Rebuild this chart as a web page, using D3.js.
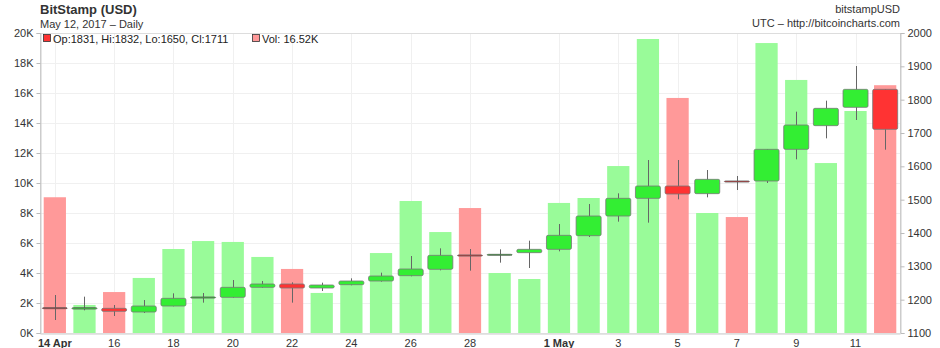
<!DOCTYPE html>
<html>
<head>
<meta charset="utf-8">
<script src="https://cdn.jsdelivr.net/npm/d3@7"></script>
<style>
  body { margin: 0; background: #fff; }
  svg { font-family: "Liberation Sans", Arial, sans-serif; }
</style>
</head>
<body>
<svg id="chart" width="940" height="348"></svg>
<script>
// daily data, 14 Apr .. 12 May 2017
const days = ["2017-04-14","2017-04-15","2017-04-16","2017-04-17","2017-04-18","2017-04-19","2017-04-20",
  "2017-04-21","2017-04-22","2017-04-23","2017-04-24","2017-04-25","2017-04-26","2017-04-27","2017-04-28",
  "2017-04-29","2017-04-30","2017-05-01","2017-05-02","2017-05-03","2017-05-04","2017-05-05","2017-05-06",
  "2017-05-07","2017-05-08","2017-05-09","2017-05-10","2017-05-11","2017-05-12"];
const opens  = [1176,1172,1174,1163,1181,1206,1207,1237,1247,1235,1245,1256,1272,1291,1334,1333,1341,1351,1392,1451,1504,1541,1518,1556,1556,1651,1722,1777,1831];
const highs  = [1214,1209,1184,1199,1219,1220,1259,1256,1252,1251,1264,1281,1331,1354,1352,1351,1377,1427,1487,1519,1619,1619,1589,1571,1652,1764,1797,1901,1832];
const lows   = [1139,1168,1151,1160,1180,1191,1206,1236,1191,1226,1243,1254,1270,1288,1287,1311,1295,1345,1388,1434,1431,1501,1507,1529,1550,1621,1684,1739,1650];
const closes = [1173,1176,1165,1181,1204,1208,1237,1247,1235,1244,1256,1271,1292,1333,1332,1336,1351,1393,1451,1504,1541,1517,1561,1554,1651,1724,1774,1831,1711];
const volumes = [9050,1870,2730,3670,5600,6130,6070,5070,4270,2670,3330,5330,8800,6730,8330,4000,3600,8670,9000,11130,19600,15670,8000,7730,19330,16870,11330,14800,16520];

const tickDays = ["2017-04-14","2017-04-16","2017-04-18","2017-04-20","2017-04-22","2017-04-24","2017-04-26",
  "2017-04-28","2017-05-01","2017-05-03","2017-05-05","2017-05-07","2017-05-09","2017-05-11"];
const boldTicks = ["2017-04-14","2017-05-01"];
const volTicks = [0,2000,4000,6000,8000,10000,12000,14000,16000,18000,20000];
const priceTicks = [1100,1200,1300,1400,1500,1600,1700,1800,1900,2000];

const plotLeft = 40, plotRight = 900, plotTop = 33, plotBottom = 333;

const data = days.map((d, i) => ({
  day: d, open: opens[i], high: highs[i], low: lows[i], close: closes[i], vol: volumes[i]
}));

const parse = d3.timeParse("%Y-%m-%d");

const xScale = d3.scaleBand()
  .domain(days)
  .range([plotLeft, plotRight])
  .paddingInner(0.25)
  .paddingOuter(0.125);

const yVol = d3.scaleLinear().domain([0, 20000]).range([plotBottom, plotTop]);
const yPrice = d3.scaleLinear().domain([1100, 2000]).range([plotBottom, plotTop]);

const svg = d3.select("#chart");

// header texts
svg.append("text").attr("x", 40).attr("y", 14)
  .style("font-size", "13px").style("font-weight", "bold").style("fill", "#333")
  .text("BitStamp (USD)");
svg.append("text").attr("x", 40).attr("y", 28)
  .style("font-size", "11px").style("fill", "#333")
  .text("May 12, 2017 – Daily");
svg.append("text").attr("x", 900).attr("y", 13).attr("text-anchor", "end")
  .style("font-size", "11px").style("fill", "#333")
  .text("bitstampUSD");
svg.append("text").attr("x", 900).attr("y", 27).attr("text-anchor", "end")
  .style("font-size", "11px").style("fill", "#333")
  .text("UTC – http://bitcoincharts.com");

// grid
const grid = svg.append("g").attr("class", "grid");
grid.selectAll("line.h")
  .data(volTicks)
  .enter().append("line")
  .attr("x1", plotLeft).attr("x2", plotRight)
  .attr("y1", d => yVol(d) + 0.5).attr("y2", d => yVol(d) + 0.5)
  .style("stroke", "#f0f0f0");
grid.selectAll("line.v")
  .data(tickDays)
  .enter().append("line")
  .attr("x1", d => Math.round(xScale(d) + xScale.bandwidth() / 2) + 0.5)
  .attr("x2", d => Math.round(xScale(d) + xScale.bandwidth() / 2) + 0.5)
  .attr("y1", plotTop).attr("y2", plotBottom)
  .style("stroke", "#f0f0f0");

// volume bars
svg.append("g").attr("class", "volume")
  .selectAll("rect")
  .data(data)
  .enter().append("rect")
  .attr("x", d => xScale(d.day))
  .attr("width", xScale.bandwidth())
  .attr("y", d => yVol(d.vol))
  .attr("height", d => yVol(0) - yVol(d.vol))
  .style("fill", d => d.close < d.open ? "#ff9999" : "#99fb99");

// candles
const bodyW = 25;
const candles = svg.append("g").attr("class", "candles")
  .selectAll("g")
  .data(data)
  .enter().append("g");

candles.append("line")
  .attr("x1", d => Math.round(xScale(d.day) + xScale.bandwidth() / 2) + 0.5)
  .attr("x2", d => Math.round(xScale(d.day) + xScale.bandwidth() / 2) + 0.5)
  .attr("y1", d => yPrice(d.high))
  .attr("y2", d => yPrice(d.low))
  .style("stroke", "#666")
  .style("stroke-width", 1);

candles.append("rect")
  .attr("x", d => xScale(d.day) + xScale.bandwidth() / 2 - bodyW / 2)
  .attr("width", bodyW)
  .attr("y", d => yPrice(Math.max(d.open, d.close)))
  .attr("height", d => Math.max(1, Math.abs(yPrice(d.open) - yPrice(d.close))))
  .attr("rx", 1.5)
  .style("fill", d => d.close < d.open ? "#ff3333" : "#33ee33")
  .style("stroke", d => Math.abs(yPrice(d.open) - yPrice(d.close)) < 2 ? "#555" : "#777")
  .style("stroke-width", 0.8);

// frame
svg.append("line").attr("x1", plotLeft + 0.5).attr("x2", plotLeft + 0.5).attr("y1", plotTop).attr("y2", plotBottom)
  .style("stroke", "#ccc");
svg.append("line").attr("x1", plotRight + 0.5).attr("x2", plotRight + 0.5).attr("y1", plotTop).attr("y2", plotBottom)
  .style("stroke", "#ccc");
svg.append("line").attr("x1", plotLeft).attr("x2", plotRight).attr("y1", plotTop + 0.5).attr("y2", plotTop + 0.5)
  .style("stroke", "#ddd");

// axes
const fmtK = d => (d / 1000) + "K";
const leftAxis = d3.axisLeft(yVol).tickValues(volTicks).tickFormat(fmtK).tickSize(4).tickPadding(3);
const rightAxis = d3.axisRight(yPrice).tickValues(priceTicks).tickFormat(d3.format("d")).tickSize(4).tickPadding(3);
const bottomAxis = d3.axisBottom(xScale).tickValues(tickDays).tickSize(0).tickPadding(6)
  .tickFormat(d => {
    const t = parse(d);
    return boldTicks.includes(d) ? d3.timeFormat("%-d %b")(t) : d3.timeFormat("%-d")(t);
  });

function styleAxis(g) {
  g.select(".domain").style("stroke", "#ccc");
  g.selectAll(".tick line").style("stroke", "#bbb");
  g.selectAll("text").style("font-size", "11px").style("fill", "#333")
    .style("font-family", "'Liberation Sans', Arial, sans-serif");
}

svg.append("g").attr("class", "y axis")
  .attr("transform", "translate(" + (plotLeft + 0.5) + ",0)")
  .call(leftAxis).call(styleAxis);

svg.append("g").attr("class", "y2 axis")
  .attr("transform", "translate(" + (plotRight + 0.5) + ",0)")
  .call(rightAxis).call(styleAxis);

const xg = svg.append("g").attr("class", "x axis")
  .attr("transform", "translate(0," + (plotBottom + 0.5) + ")")
  .call(bottomAxis).call(styleAxis);
xg.selectAll(".tick text")
  .style("font-weight", d => boldTicks.includes(d) ? "bold" : "normal");

// legend
const last = data[data.length - 1];
const legend = svg.append("g").attr("class", "legend");
legend.append("rect").attr("x", 43.5).attr("y", 34.5).attr("width", 7).attr("height", 7)
  .style("fill", "#ff3333").style("stroke", "#333").style("stroke-width", 0.8);
legend.append("text").attr("x", 53).attr("y", 43)
  .style("font-size", "11px").style("fill", "#222")
  .text("Op:" + last.open + ", Hi:" + last.high + ", Lo:" + last.low + ", Cl:" + last.close);
legend.append("rect").attr("x", 252.5).attr("y", 34.5).attr("width", 7).attr("height", 7)
  .style("fill", "#ff9999").style("stroke", "#333").style("stroke-width", 0.8);
legend.append("text").attr("x", 262).attr("y", 43)
  .style("font-size", "11px").style("fill", "#222")
  .text("Vol: " + (last.vol / 1000).toFixed(2) + "K");
</script>
</body>
</html>
